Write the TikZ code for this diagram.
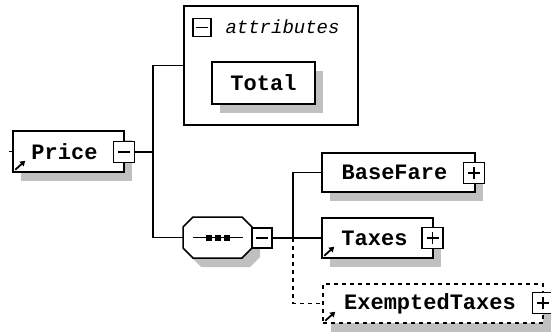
\documentclass[tikz,border=0pt]{standalone}
\usepackage{fontspec}
\setmonofont{Liberation Mono}
\usetikzlibrary{arrows.meta,calc,shadows}
\definecolor{xsdshade}{RGB}{192,192,192}
\newcommand\seqoct{(183,227) -- (193,217) -- (242,217) -- (252,227) -- (252,248) -- (242,258) -- (193,258) -- (183,248) -- cycle}
\tikzset{
  elem/.style={draw,fill=white,line width=1.5pt,inner sep=0pt,
    font=\ttfamily\bfseries\fontsize{22}{22}\selectfont,
    drop shadow={shadow xshift=8pt,shadow yshift=-9pt,fill=xsdshade,opacity=1}},
  optelem/.style={elem,dash pattern=on 4pt off 4pt},
  pmbox/.style={draw,fill=white,line width=1.4pt,minimum size=21pt,inner sep=0pt},
  minusbox/.style={pmbox,path picture={
    \draw[line width=1.4pt] ($(path picture bounding box.center)+(-6pt,0)$)--($(path picture bounding box.center)+(6pt,0)$);}},
  plusbox/.style={pmbox,path picture={
    \draw[line width=1.4pt] ($(path picture bounding box.center)+(-6pt,0)$)--($(path picture bounding box.center)+(6pt,0)$)
      ($(path picture bounding box.center)+(0,-6pt)$)--($(path picture bounding box.center)+(0,6pt)$);}},
  wire/.style={line width=1.4pt},
  refarrow/.style={line width=1.8pt,-{Triangle[length=5pt,width=6pt]}}
}
\begin{document}
\begin{tikzpicture}[x=1pt,y=-1pt]
    \useasboundingbox (0,0) rectangle (551,334);
    \clip (0,0) rectangle (551,334);
    % root element
    \node[elem,minimum width=111,minimum height=41] (price) at (68.5,151.5) {\hspace*{-8pt}Price};
    \draw[wire] (price.west) -- ++(-3,0);
    \draw[refarrow] ($(price.south west)+(3,-3)$) -- ++(10,-9);
    \node[minusbox] (pminus) at (124,152) {};
    \coordinate (j1) at (153,152);
    % attributes group
    \node[draw,line width=1.5pt,minimum width=174,minimum height=119] (attr) at (271,65.5) {};
    \node[minusbox,minimum size=18pt] (aminus) at (202,27.5) {};
    \node[anchor=west,font=\ttfamily\itshape\fontsize{19}{19}\selectfont] (attrtxt) at (222,27) {attributes};
    \node[elem,minimum width=103,minimum height=42] (total) at (263.5,83) {Total};
    % sequence compositor
    \fill[xsdshade,shift={(8,9)}] \seqoct;
    \draw[line width=1.5pt,fill=white] \seqoct;
    \node[minimum width=69,minimum height=41,inner sep=0pt] (seq) at (217.5,237.5) {};
    \draw[wire] ($(seq)+(-25,0)$) -- ($(seq)+(25,0)$);
    \foreach \dx in {-9,0,9}{\fill ($(seq)+(\dx-3,-3)$) rectangle ++(6,6);}
    \node[minusbox,minimum size=20pt] (sminus) at (262,238) {};
    \coordinate (j2) at (293,238);
    % children
    \node[elem,minimum width=153,minimum height=39] (basefare) at (398.5,172.5) {\hspace*{-8pt}BaseFare};
    \node[plusbox] (bfplus) at (474,173) {};
    \node[elem,minimum width=111,minimum height=40] (taxes) at (377.5,238) {\hspace*{-6pt}Taxes};
    \draw[refarrow] ($(taxes.south west)+(3,-3)$) -- ++(10,-9);
    \node[plusbox] (txplus) at (432.5,238) {};
    \node[optelem,minimum width=220,minimum height=39] (exempt) at (433,303.5) {\hspace*{-6pt}ExemptedTaxes};
    \draw[refarrow] ($(exempt.south west)+(3,-3)$) -- ++(10,-9);
    \node[plusbox] (explus) at (543,303) {};
    % connectors
    \draw[wire] (pminus.east) -- (j1);
    \draw[wire] (seq.west) -| (j1) |- (attr.west);
    \draw[wire] (sminus.east) -- (j2) -- (taxes.west);
    \draw[wire] (j2) |- (basefare.west);
    \draw[wire,dash pattern=on 4pt off 4pt] (j2) |- (exempt.west);
  \end{tikzpicture}
\end{document}
